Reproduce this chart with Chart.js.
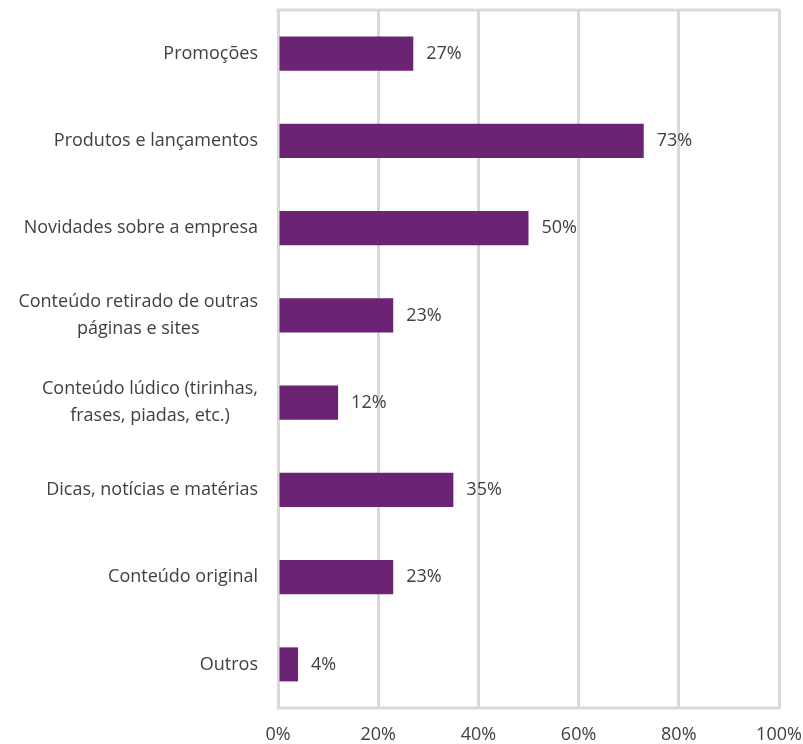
<!DOCTYPE html>
<html>
<head>
<meta charset="utf-8">
<script src="https://cdn.jsdelivr.net/npm/chart.js@4"></script>
<style>
  html, body { margin: 0; padding: 0; background: #ffffff; }
  #wrap { width: 803px; height: 744px; position: relative; }
</style>
</head>
<body>
<div id="wrap"><canvas id="c" width="803" height="744"></canvas></div>
<script>
// Categories (multi-line entries are split into lines)
const categories = [
  ['Promoções'],
  ['Produtos e lançamentos'],
  ['Novidades sobre a empresa'],
  ['Conteúdo retirado de outras', 'páginas e sites'],
  ['Conteúdo lúdico (tirinhas,', 'frases, piadas, etc.)'],
  ['Dicas, notícias e matérias'],
  ['Conteúdo original'],
  ['Outros']
];
// Share of respondents, in percent
const shares = [27, 73, 50, 23, 12, 35, 23, 4];
// X axis ticks
const xTicks = [0, 20, 40, 60, 80, 100];

const FONT = '"Open Sans", sans-serif';
const SIZE = 18;
const TEXT = '#404040';
const GRID = '#d9d9d9';

// Category labels: block right-aligned to the axis, lines centred within the block
const categoryLabels = {
  id: 'categoryLabels',
  afterDraw(chart) {
    const ctx = chart.ctx;
    const y = chart.scales.y;
    const right = chart.chartArea.left - 20;
    const lh = 27;
    ctx.save();
    ctx.font = SIZE + 'px ' + FONT;
    ctx.fillStyle = TEXT;
    ctx.textAlign = 'center';
    ctx.textBaseline = 'middle';
    categories.forEach((lines, i) => {
      const w = Math.max(...lines.map(l => ctx.measureText(l).width));
      const cx = right - w / 2;
      const cy = y.getPixelForTick(i);
      lines.forEach((l, k) => {
        ctx.fillText(l, cx, cy + (k - (lines.length - 1) / 2) * lh);
      });
    });
    ctx.restore();
  }
};

// Frame lines along top and bottom of the plot area
const frame = {
  id: 'frame',
  beforeDatasetsDraw(chart) {
    const { ctx, chartArea: a } = chart;
    ctx.save();
    ctx.strokeStyle = GRID;
    ctx.lineWidth = 3;
    ctx.beginPath();
    ctx.moveTo(a.left - 1.5, a.top);
    ctx.lineTo(a.right + 1.5, a.top);
    ctx.moveTo(a.left - 1.5, a.bottom);
    ctx.lineTo(a.right + 1.5, a.bottom);
    ctx.stroke();
    ctx.restore();
  }
};

// Value labels at the end of each bar
const valueLabels = {
  id: 'valueLabels',
  afterDatasetsDraw(chart) {
    const ctx = chart.ctx;
    const meta = chart.getDatasetMeta(0);
    ctx.save();
    ctx.font = SIZE + 'px ' + FONT;
    ctx.fillStyle = TEXT;
    ctx.textAlign = 'left';
    ctx.textBaseline = 'middle';
    meta.data.forEach((bar, i) => {
      ctx.fillText(shares[i] + '%', bar.x + 13, bar.y);
    });
    ctx.restore();
  }
};

new Chart(document.getElementById('c'), {
  type: 'bar',
  data: {
    labels: categories.map(c => c.join(' ')),
    datasets: [{
      data: shares,
      backgroundColor: '#6b2373',
      borderWidth: 0,
      barPercentage: 0.39,
      categoryPercentage: 1
    }]
  },
  options: {
    indexAxis: 'y',
    responsive: false,
    animation: false,
    layout: { padding: { left: 278, right: 24, top: 10, bottom: 0 } },
    plugins: { legend: { display: false }, tooltip: { enabled: false } },
    scales: {
      x: {
        min: 0, max: 100,
        afterBuildTicks(scale) { scale.ticks = xTicks.map(v => ({ value: v })); },
        afterFit(scale) { scale.paddingLeft = 0; scale.paddingRight = 0; scale.height = 36; },
        ticks: {
          callback: v => v + '%',
          color: TEXT,
          font: { family: FONT, size: SIZE },
          padding: 16
        },
        grid: { color: GRID, lineWidth: 3, drawTicks: false },
        border: { display: false }
      },
      y: {
        ticks: { display: false },
        grid: { display: false },
        border: { display: false },
        afterFit(scale) { scale.width = 0; }
      }
    }
  },
  plugins: [frame, valueLabels, categoryLabels]
});
</script>
</body>
</html>
